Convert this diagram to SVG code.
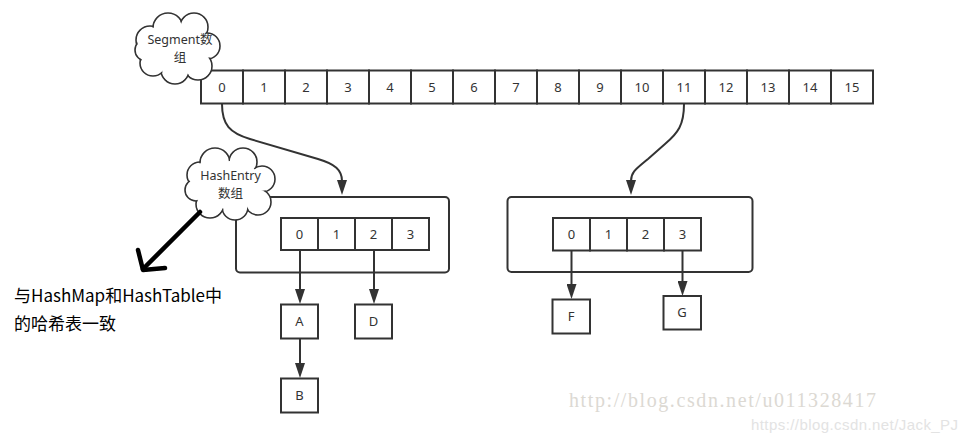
<svg xmlns="http://www.w3.org/2000/svg" width="967" height="443" viewBox="0 0 967 443">
<style>
.cell{fill:#fff;stroke:#333;stroke-width:2}
.box{fill:#fff;stroke:#333;stroke-width:2}
.frame{fill:#fff;stroke:#333;stroke-width:2}
.t{font-family:"Noto Sans","Noto Sans CJK SC",sans-serif;font-size:13px;fill:#333;text-anchor:middle}
.ct{font-family:"Noto Sans","Noto Sans CJK SC",sans-serif;font-size:12.5px;fill:#333;text-anchor:middle}
.cs{fill:#fff;stroke:#333;stroke-width:1.6}
.cf{fill:#fff;stroke:none}
.edge{fill:none;stroke:#333;stroke-width:2}
.note{font-family:"Noto Sans CJK SC","Noto Sans",sans-serif;font-size:17px;fill:#000}
</style>
<defs>
<marker id="ah" viewBox="0 0 15 10" markerWidth="15" markerHeight="10" refX="1" refY="5" orient="auto" markerUnits="userSpaceOnUse">
<path d="M0,0 L15,5 L0,10 Z" fill="#333"/>
</marker>
</defs>
<rect width="967" height="443" fill="#fff"/>

<g id="segment-array">
<rect class="cell" x="201" y="70.5" width="42" height="33"/>
<rect class="cell" x="243" y="70.5" width="42" height="33"/>
<rect class="cell" x="285" y="70.5" width="42" height="33"/>
<rect class="cell" x="327" y="70.5" width="42" height="33"/>
<rect class="cell" x="369" y="70.5" width="42" height="33"/>
<rect class="cell" x="411" y="70.5" width="42" height="33"/>
<rect class="cell" x="453" y="70.5" width="42" height="33"/>
<rect class="cell" x="495" y="70.5" width="42" height="33"/>
<rect class="cell" x="537" y="70.5" width="42" height="33"/>
<rect class="cell" x="579" y="70.5" width="42" height="33"/>
<rect class="cell" x="621" y="70.5" width="42" height="33"/>
<rect class="cell" x="663" y="70.5" width="42" height="33"/>
<rect class="cell" x="705" y="70.5" width="42" height="33"/>
<rect class="cell" x="747" y="70.5" width="42" height="33"/>
<rect class="cell" x="789" y="70.5" width="42" height="33"/>
<rect class="cell" x="831" y="70.5" width="42" height="33"/>
<text class="t" x="222" y="92">0</text>
<text class="t" x="264" y="92">1</text>
<text class="t" x="306" y="92">2</text>
<text class="t" x="348" y="92">3</text>
<text class="t" x="390" y="92">4</text>
<text class="t" x="432" y="92">5</text>
<text class="t" x="474" y="92">6</text>
<text class="t" x="516" y="92">7</text>
<text class="t" x="558" y="92">8</text>
<text class="t" x="600" y="92">9</text>
<text class="t" x="642" y="92">10</text>
<text class="t" x="684" y="92">11</text>
<text class="t" x="726" y="92">12</text>
<text class="t" x="768" y="92">13</text>
<text class="t" x="810" y="92">14</text>
<text class="t" x="852" y="92">15</text>
</g>

<g id="segment-cloud">
<circle class="cs" cx="150" cy="40" r="14"/>
<circle class="cs" cx="168" cy="28" r="15"/>
<circle class="cs" cx="194" cy="27" r="14"/>
<circle class="cs" cx="207" cy="46" r="13"/>
<circle class="cs" cx="198" cy="66" r="14"/>
<circle class="cs" cx="175" cy="70" r="14"/>
<circle class="cs" cx="153" cy="63" r="13"/>
<circle class="cs" cx="146" cy="50" r="11"/>
<circle class="cf" cx="150" cy="40" r="12.8"/>
<circle class="cf" cx="168" cy="28" r="13.8"/>
<circle class="cf" cx="194" cy="27" r="12.8"/>
<circle class="cf" cx="207" cy="46" r="11.8"/>
<circle class="cf" cx="198" cy="66" r="12.8"/>
<circle class="cf" cx="175" cy="70" r="12.8"/>
<circle class="cf" cx="153" cy="63" r="11.8"/>
<circle class="cf" cx="146" cy="50" r="9.8"/>
<ellipse class="cf" cx="177" cy="48" rx="30" ry="24"/>
<text class="ct" x="180" y="44">Segment数</text>
<text class="ct" x="180" y="62">组</text>
</g>

<g id="hashentry-left">
<rect class="frame" x="236" y="197" width="213" height="75.5" rx="4"/>
<rect class="cell" x="281" y="218" width="37" height="32"/>
<rect class="cell" x="318" y="218" width="37" height="32"/>
<rect class="cell" x="355" y="218" width="37" height="32"/>
<rect class="cell" x="392" y="218" width="37" height="32"/>
<text class="t" x="299.5" y="239">0</text>
<text class="t" x="336.5" y="239">1</text>
<text class="t" x="373.5" y="239">2</text>
<text class="t" x="410.5" y="239">3</text>
</g>

<g id="hashentry-cloud">
<circle class="cs" cx="200" cy="175" r="13"/>
<circle class="cs" cx="215" cy="163" r="15"/>
<circle class="cs" cx="243" cy="162" r="14"/>
<circle class="cs" cx="262" cy="179" r="13"/>
<circle class="cs" cx="258" cy="202" r="13"/>
<circle class="cs" cx="235" cy="207" r="13"/>
<circle class="cs" cx="210" cy="204" r="14"/>
<circle class="cs" cx="196" cy="190" r="11"/>
<circle class="cf" cx="200" cy="175" r="11.8"/>
<circle class="cf" cx="215" cy="163" r="13.8"/>
<circle class="cf" cx="243" cy="162" r="12.8"/>
<circle class="cf" cx="262" cy="179" r="11.8"/>
<circle class="cf" cx="258" cy="202" r="11.8"/>
<circle class="cf" cx="235" cy="207" r="11.8"/>
<circle class="cf" cx="210" cy="204" r="12.8"/>
<circle class="cf" cx="196" cy="190" r="9.8"/>
<ellipse class="cf" cx="230" cy="185" rx="32" ry="24"/>
<text class="ct" x="230.5" y="180">HashEntry</text>
<text class="ct" x="230.5" y="198">数组</text>
</g>

<g id="hashentry-right">
<rect class="frame" x="507.5" y="197" width="245" height="75" rx="4"/>
<rect class="cell" x="553" y="218" width="37" height="32.5"/>
<rect class="cell" x="590" y="218" width="37" height="32.5"/>
<rect class="cell" x="627" y="218" width="37" height="32.5"/>
<rect class="cell" x="664" y="218" width="37" height="32.5"/>
<text class="t" x="571.5" y="239">0</text>
<text class="t" x="608.5" y="239">1</text>
<text class="t" x="645.5" y="239">2</text>
<text class="t" x="682.5" y="239">3</text>
</g>

<g id="node-A"><rect class="box" x="281" y="304.5" width="37" height="34"/><text class="t" x="299.5" y="326">A</text></g>
<g id="node-D"><rect class="box" x="355" y="304.5" width="37" height="34"/><text class="t" x="373.5" y="326">D</text></g>
<g id="node-B"><rect class="box" x="281" y="378.5" width="37" height="34"/><text class="t" x="299.5" y="400">B</text></g>
<g id="node-F"><rect class="box" x="552.5" y="299.5" width="37.5" height="34"/><text class="t" x="571" y="321">F</text></g>
<g id="node-G"><rect class="box" x="663.5" y="296" width="37.5" height="33.5"/><text class="t" x="682" y="317">G</text></g>

<g id="note">
<text class="note" x="14" y="302">与HashMap和HashTable中</text>
<text class="note" x="14" y="330">的哈希表一致</text>
</g>

<g id="connectors">
<path class="edge" d="M222,104 C222,125 230,133 250,139 L318,159 C335,164 342,170 342,181" marker-end="url(#ah)"/>
<path class="edge" d="M684,104 C684,125 678,133 665,144 L648,159 C636,169 631,172 631,181" marker-end="url(#ah)"/>
<path class="edge" d="M300,250 L300,290" marker-end="url(#ah)"/>
<path class="edge" d="M374,250 L374,290" marker-end="url(#ah)"/>
<path class="edge" d="M300,338.5 L300,364" marker-end="url(#ah)"/>
<path class="edge" d="M571.5,250.5 L571.5,285" marker-end="url(#ah)"/>
<path class="edge" d="M682.5,250.5 L682.5,282" marker-end="url(#ah)"/>
<g fill="none" stroke="#000" stroke-width="4.5" stroke-linecap="round" stroke-linejoin="round">
<path d="M200,212 L143,269"/>
<path d="M138,250 L143,270 L165,268"/>
</g>
</g>

<g id="watermark">
<text x="569" y="407" font-family="Liberation Serif,serif" font-size="20" fill="#dcd9d3" textLength="307" lengthAdjust="spacing">http://blog.csdn.net/u011328417</text>
<text x="751" y="430" font-family="Liberation Sans,Arial,sans-serif" font-size="15" fill="#e3e3e3" textLength="207" lengthAdjust="spacing">https://blog.csdn.net/Jack_PJ</text>
</g>
</svg>
